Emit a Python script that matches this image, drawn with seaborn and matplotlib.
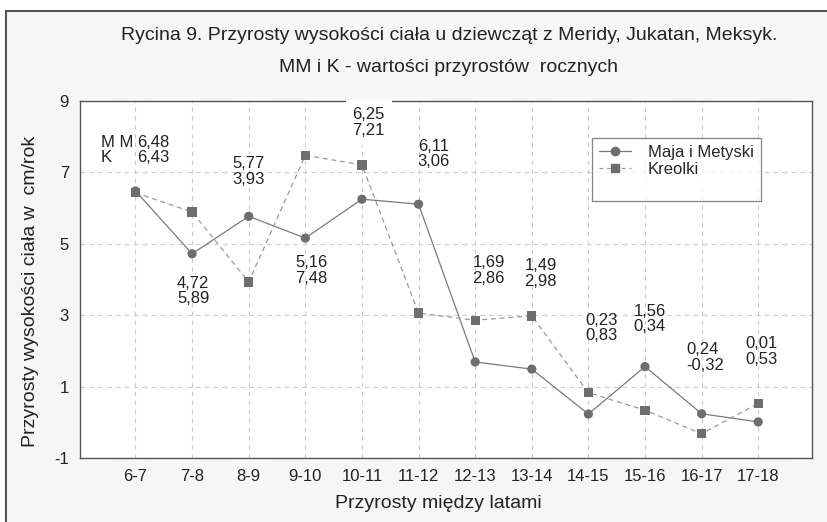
import matplotlib
matplotlib.use("Agg")
import numpy as np
import pandas as pd
import matplotlib.pyplot as plt
from matplotlib.lines import Line2D
from matplotlib.patches import Rectangle
import seaborn as sns

# data
periods = ["6-7", "7-8", "8-9", "9-10", "10-11", "11-12",
           "12-13", "13-14", "14-15", "15-16", "16-17", "17-18"]
mm_values = [6.48, 4.72, 5.77, 5.16, 6.25, 6.11, 1.69, 1.49, 0.23, 1.56, 0.24, 0.01]
k_values = [6.43, 5.89, 3.93, 7.48, 7.21, 3.06, 2.86, 2.98, 0.83, 0.34, -0.32, 0.53]
groups = ["Maja i Metyski", "Kreolki"]
y_ticks = [-1, 1, 3, 5, 7, 9]

# where the value labels sit (x in category units, y in cm/rok)
label_x = [0.31, 1.02, 2.0, 3.11, 4.12, 5.27, 6.24, 7.16, 8.23, 9.08, 10.07, 11.06]
label_y = [7.63, 3.68, 7.03, 4.25, 8.40, 7.52, 4.25, 4.17, 2.64, 2.89, 1.82, 1.98]

df = pd.DataFrame({
    "idx": list(range(len(periods))) * 2,
    "value": mm_values + k_values,
    "group": [groups[0]] * len(periods) + [groups[1]] * len(periods),
})

sns.set_style("white")
plt.rcParams["font.family"] = ["Liberation Sans", "DejaVu Sans"]
plt.rcParams["axes.unicode_minus"] = False

fig = plt.figure(figsize=(8.28, 5.22), dpi=100, facecolor="white")
# scanned page frame (only top/left edges visible)
fig.patches.append(Rectangle((6 / 828, -0.2), 1.2, 1 - 11 / 522 + 0.2,
                             transform=fig.transFigure, facecolor="#f6f6f6",
                             edgecolor="#555555", lw=1.5, zorder=-10))

ax = fig.add_axes([80 / 828, 1 - 458 / 522, 732 / 828, 357 / 522])
ax.set_facecolor("white")

line_col = {groups[0]: "#7a7a7a", groups[1]: "#9a9a9a"}
sns.lineplot(data=df, x="idx", y="value", hue="group", style="group",
             palette=line_col, dashes={groups[0]: "", groups[1]: (4, 3)},
             linewidth=0.9, legend=False, ax=ax, zorder=3)
sns.scatterplot(data=df, x="idx", y="value", hue="group", style="group",
                palette={g: "#6e6e6e" for g in groups},
                markers={groups[0]: "o", groups[1]: "s"},
                s=44, linewidth=0, legend=False, ax=ax, zorder=4)

ax.set_xlim(-0.98, 11.95)
ax.set_ylim(-1, 9)
ax.set_xticks(range(len(periods)))
ax.set_xticklabels(periods)
ax.set_yticks(y_ticks)
ax.set_yticklabels([str(t) for t in y_ticks])
ax.tick_params(length=0, labelsize=12, colors="#222222", pad=8)
ax.grid(True, color="#cccccc", ls=(0, (4, 4)), lw=0.8)
for sp in ax.spines.values():
    sp.set_color("#555555")
    sp.set_linewidth(1.0)

ax.set_xlabel("Przyrosty między latami", fontsize=14, color="#222222", labelpad=10)
ax.set_ylabel("Przyrosty wysokości ciała w  cm/rok", fontsize=14, color="#222222")
ax.xaxis.set_label_coords(0.49, -0.105)
ax.yaxis.set_label_coords(-0.056, 0.468)

def fmt(v):
    return f"{v:.2f}".replace(".", ",")

for i in range(len(periods)):
    txt = fmt(mm_values[i]) + "\n" + fmt(k_values[i])
    kw = {}
    if label_y[i] > 8:
        kw["bbox"] = dict(facecolor="white", edgecolor="none", pad=5)
    ax.text(label_x[i], label_y[i], txt, ha="center", va="center",
            multialignment="left", fontsize=12, linespacing=1.05,
            color="#222222", zorder=6, clip_on=False, **kw)
ax.text(-0.61, label_y[0], "M M\nK", ha="left", va="center",
        multialignment="left", fontsize=12, linespacing=1.05, color="#222222")

handles = [
    Line2D([], [], color=line_col[groups[0]], lw=0.9, marker="o", ms=6,
           mfc="#6e6e6e", mec="#6e6e6e"),
    Line2D([], [], color=line_col[groups[1]], lw=0.9, ls=(0, (3, 3)), marker="s",
           ms=6, mfc="#6e6e6e", mec="#6e6e6e"),
    Line2D([], [], alpha=0),
]
leg = ax.legend(handles, groups + [" "], loc="upper left",
                bbox_to_anchor=(0.688, 0.921), fontsize=12, frameon=True,
                fancybox=False, edgecolor="#666666", handlelength=1.9,
                borderpad=0.45, labelspacing=0.1, handletextpad=1.0)
leg.get_frame().set_linewidth(0.9)

fig.text(449 / 828, 1 - 35 / 522,
         "Rycina 9. Przyrosty wysokości ciała u dziewcząt z Meridy, Jukatan, Meksyk.",
         ha="center", va="center", fontsize=14, color="#222222")
fig.text(449 / 828, 1 - 67 / 522, "MM i K - wartości przyrostów  rocznych",
         ha="center", va="center", fontsize=14, color="#222222")

fig.savefig("out.png", dpi=100, facecolor=fig.get_facecolor())
